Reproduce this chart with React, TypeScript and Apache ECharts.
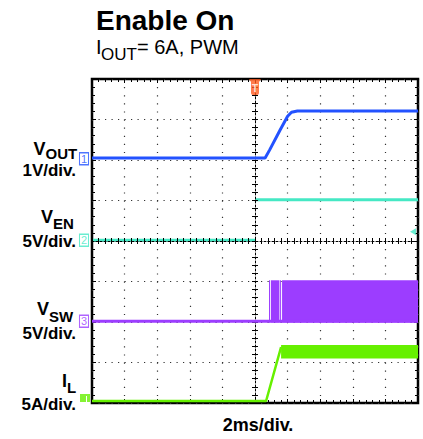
import React, { useEffect, useRef } from "react";
import * as echarts from "echarts";

const FONT = "'Liberation Sans', Arial, Helvetica, sans-serif";

// Screen: 10 horizontal divisions (2 ms/div), 8 vertical divisions
const xMin = 0;
const xMax = 10;
const yMin = 0;
const yMax = 8;

// VOUT (ch1, 1V/div) trace in divisions
const voutX = [0, 5.31, 5.45, 5.77, 6.0, 6.12, 6.3, 10];
const voutY = [6.05, 6.05, 6.25, 6.74, 7.08, 7.18, 7.21, 7.21];

// VEN (ch2, 5V/div)
const venLowX = [0, 5.0];
const venLowY = [4.02, 4.02];
const venHighX = [5.0, 10];
const venHighY = [5.02, 5.02];

// VSW (ch3, 5V/div)
const vswBaseX = [0, 10];
const vswBaseY = [2.02, 2.02];
const vswBurstStart = [5.43, 5.49, 5.77, 5.83];
const vswBurstEnd = [5.465, 5.75, 5.8, 10];
const vswLow = 1.99;
const vswHigh = 3.03;

// IL (ch4, 5A/div)
const ilX = [0, 5.34, 5.8];
const ilY = [0.05, 0.05, 1.38];
const ilBandStart = [5.8];
const ilBandEnd = [10];
const ilLow = 1.1;
const ilHigh = 1.43;

// markers
const channelNames = ["1", "2", "3", ""];
const channelLevels = [6.03, 4.02, 2.02, 0.1];
const triggerTime = 5;
const triggerLevel = 4.23;

const BLUE = "#2352ff";
const CYAN = "#45e8c4";
const PURPLE = "#9c3dff";
const GREEN = "#66f000";
const ORANGE = "#ff5a1e";

function txt(
  text: string,
  x: number,
  y: number,
  size: number,
  weight: string,
  align: string
) {
  return {
    type: "text",
    x,
    y,
    z: 100,
    style: {
      text,
      fill: "#000",
      font: `${weight} ${size}px ${FONT}`,
      align,
      textAlign: align,
      verticalAlign: "middle",
      textVerticalAlign: "middle",
    },
  };
}

export default function App() {
  const ref = useRef<HTMLDivElement>(null);
  useEffect(() => {
    if (!ref.current) return;
    const chart = echarts.init(ref.current, undefined, { renderer: "svg" });

    const bandRender = (color: string) => (params: any, api: any) => {
      const p0 = api.coord([api.value(0), api.value(3)]);
      const p1 = api.coord([api.value(1), api.value(2)]);
      return {
        type: "rect",
        shape: { x: p0[0], y: p0[1], width: p1[0] - p0[0], height: p1[1] - p0[1] },
        style: { fill: color },
      };
    };

    const edgeAxisCommon = {
      min: xMin,
      max: xMax,
      interval: 1,
      axisLine: { show: false, onZero: false },
      axisLabel: { show: false },
      axisTick: { show: true, inside: true, length: 4, lineStyle: { color: "#000", width: 1 } },
      minorTick: { show: true, splitNumber: 5, length: 3, lineStyle: { color: "#000", width: 1 } },
    };

    const option: any = {
      animation: false,
      backgroundColor: "#fff",
      grid: {
        left: 92,
        top: 79,
        width: 326,
        height: 324,
        show: true,
        borderColor: "#000",
        borderWidth: 2.5,
        backgroundColor: "#fff",
      },
      xAxis: [
        {
          type: "value",
          position: "bottom",
          ...edgeAxisCommon,
          splitLine: { show: true, lineStyle: { color: "#333", width: 1.2, type: [1.2, 6.9] } },
        },
        { type: "value", position: "top", ...edgeAxisCommon, splitLine: { show: false } },
        {
          type: "value",
          position: "bottom",
          offset: -162,
          min: xMin,
          max: xMax,
          interval: 0.2,
          z: 5,
          axisLine: { show: true, onZero: false, lineStyle: { color: "#000", width: 1, type: [2, 2] } },
          axisTick: { show: true, inside: true, length: 3, lineStyle: { color: "#000" } },
          axisLabel: { show: false },
          splitLine: { show: false },
        },
        {
          type: "value",
          position: "bottom",
          offset: -162,
          min: xMin,
          max: xMax,
          interval: 0.2,
          z: 5,
          axisLine: { show: false, onZero: false },
          axisTick: { show: true, inside: false, length: 3, lineStyle: { color: "#000" } },
          axisLabel: { show: false },
          splitLine: { show: false },
        },
      ],
      yAxis: [
        {
          type: "value",
          position: "left",
          ...edgeAxisCommon,
          min: yMin,
          max: yMax,
          splitLine: { show: true, lineStyle: { color: "#333", width: 1.2, type: [1.2, 5.3] } },
        },
        {
          type: "value",
          position: "right",
          ...edgeAxisCommon,
          min: yMin,
          max: yMax,
          splitLine: { show: false },
        },
        {
          type: "value",
          position: "left",
          offset: -163,
          min: yMin,
          max: yMax,
          interval: 0.2,
          z: 5,
          axisLine: { show: true, onZero: false, lineStyle: { color: "#000", width: 1, type: [2, 2] } },
          axisTick: { show: true, inside: true, length: 3, lineStyle: { color: "#000" } },
          axisLabel: { show: false },
          splitLine: { show: false },
        },
        {
          type: "value",
          position: "left",
          offset: -163,
          min: yMin,
          max: yMax,
          interval: 0.2,
          z: 5,
          axisLine: { show: false, onZero: false },
          axisTick: { show: true, inside: false, length: 3, lineStyle: { color: "#000" } },
          axisLabel: { show: false },
          splitLine: { show: false },
        },
      ],
      series: [
        {
          type: "line",
          name: "VEN low",
          z: 2,
          symbol: "none",
          data: venLowX.map((x, i) => [x, venLowY[i]]),
          lineStyle: { color: CYAN, width: 3 },
        },
        {
          type: "line",
          name: "VEN high",
          z: 2,
          symbol: "none",
          data: venHighX.map((x, i) => [x, venHighY[i]]),
          lineStyle: { color: CYAN, width: 3 },
        },
        {
          type: "line",
          name: "VOUT",
          z: 10,
          symbol: "none",
          data: voutX.map((x, i) => [x, voutY[i]]),
          lineStyle: { color: BLUE, width: 3 },
        },
        {
          type: "line",
          name: "VSW base",
          z: 10,
          symbol: "none",
          data: vswBaseX.map((x, i) => [x, vswBaseY[i]]),
          lineStyle: { color: PURPLE, width: 3 },
        },
        {
          type: "custom",
          name: "VSW",
          z: 10,
          renderItem: bandRender(PURPLE),
          encode: { x: [0, 1], y: [2, 3] },
          data: vswBurstStart.map((s, i) => [s, vswBurstEnd[i], vswLow, vswHigh]),
        },
        {
          type: "line",
          name: "IL",
          z: 10,
          symbol: "none",
          data: ilX.map((x, i) => [x, ilY[i]]),
          lineStyle: { color: GREEN, width: 2.5 },
        },
        {
          type: "custom",
          name: "IL band",
          z: 10,
          renderItem: bandRender(GREEN),
          encode: { x: [0, 1], y: [2, 3] },
          data: ilBandStart.map((s, i) => [s, ilBandEnd[i], ilLow, ilHigh]),
        },
        {
          type: "scatter",
          name: "markers",
          z: 20,
          clip: false,
          silent: true,
          data: [
            ...channelLevels.slice(0, 3).map((lv, i) => ({
              value: [xMin, lv],
              symbol: "rect",
              symbolSize: [9, 12],
              symbolOffset: [-8, 0],
              itemStyle: {
                color: "#fff",
                borderColor: [BLUE, CYAN, PURPLE][i],
                borderWidth: 1.2,
              },
              label: {
                show: true,
                position: "inside",
                formatter: channelNames[i],
                color: [BLUE, CYAN, PURPLE][i],
                fontSize: 11,
                fontFamily: FONT,
              },
            })),
            {
              value: [xMin, channelLevels[3]],
              symbol: "path://M0,0 H10 V8 H0 Z M6,2 V8 H7 V2 Z",
              symbolSize: [10, 8],
              symbolOffset: [-7, -1],
              itemStyle: { color: GREEN },
            },
            {
              value: [triggerTime, yMax],
              symbol:
                "path://M0,0 L12,0 L10,3 L10,14 Q10,16 8,16 L4,16 Q2,16 2,14 L2,3 Z",
              symbolSize: [12, 16],
              symbolOffset: [0, 8],
              itemStyle: { color: ORANGE },
              label: {
                show: true,
                position: "inside",
                offset: [0, 1],
                formatter: "T",
                color: "#fff",
                fontSize: 10,
                fontWeight: "bold",
                fontFamily: FONT,
              },
            },
            {
              value: [xMax, triggerLevel],
              symbol: "triangle",
              symbolRotate: 90,
              symbolSize: [7, 6],
              symbolOffset: [-5, 0],
              itemStyle: { color: CYAN },
            },
          ],
        },
      ],
      graphic: [
        txt("Enable On", 96, 20, 28, "bold", "left"),
        txt("I", 96, 46.5, 20, "normal", "left"),
        txt("OUT", 101, 54, 17, "normal", "left"),
        txt("= 6A, PWM", 137, 46.5, 20, "normal", "left"),

        txt("V", 45.5, 149, 18, "bold", "right"),
        txt("OUT", 45.5, 153.5, 15, "bold", "left"),
        txt("1V/div.", 76, 170.5, 17, "bold", "right"),

        txt("V", 53, 216.5, 18, "bold", "right"),
        txt("EN", 53, 223, 15, "bold", "left"),
        txt("5V/div.", 76, 241, 17, "bold", "right"),

        txt("V", 49, 309, 18, "bold", "right"),
        txt("SW", 49, 316, 15, "bold", "left"),
        txt("5V/div.", 76, 333, 17, "bold", "right"),

        txt("I", 67, 380.5, 18, "bold", "right"),
        txt("L", 67, 387, 15, "bold", "left"),
        txt("5A/div.", 76, 404, 17, "bold", "right"),

        txt("2ms/div.", 258, 425, 18, "bold", "center"),
      ],
    };

    chart.setOption(option);
    return () => chart.dispose();
  }, []);

  return (
    <div
      ref={ref}
      style={{ position: "fixed", left: 0, top: 0, width: 423, height: 439, background: "#fff" }}
    />
  );
}
